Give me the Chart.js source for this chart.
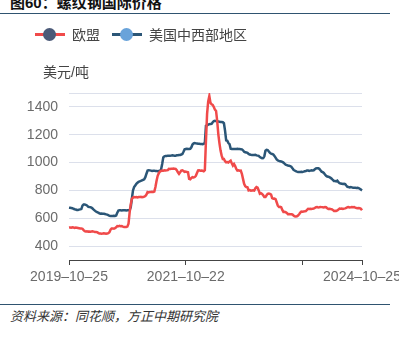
<!DOCTYPE html>
<html>
<head>
<meta charset="utf-8">
<script src="https://cdn.jsdelivr.net/npm/chart.js@4/dist/chart.umd.min.js"></script>
<style>
  body { margin: 0; width: 399px; height: 340px; overflow: hidden; background: #fff;
         font-family: "Liberation Sans", "Noto Sans CJK SC", sans-serif; position: relative; }
  .title { position: absolute; left: 10px; top: -9px; font-size: 15px; font-weight: bold; color: #111; }
  .rule { position: absolute; left: 0; width: 390px; height: 1px; background: #2f5470; }
  .legend { position: absolute; left: 35px; top: 24px; font-size: 14px; color: #444; display: flex; align-items: center; }
  .legend .item { display: flex; align-items: center; margin-right: 12px; }
  .legend .mark { position: relative; width: 30px; height: 14px; margin-right: 7px; }
  .legend .mark .ln { position: absolute; left: 0; top: 6px; width: 30px; height: 3px; }
  .legend .mark .dot { position: absolute; left: 8px; top: 1px; width: 13px; height: 13px; border-radius: 50%; }
  .unit { position: absolute; left: 43px; top: 61px; font-size: 14px; color: #444; }
  #wrap { position: absolute; left: 0; top: 0; width: 399px; height: 300px; }
  .source { position: absolute; left: 10px; top: 306px; font-size: 13px; font-style: italic; color: #333; }
</style>
</head>
<body>
<div class="title">图60：螺纹钢国际价格</div>
<div class="rule" style="top:13px"></div>

<div id="wrap"><canvas id="mycanvas" width="399" height="300"></canvas></div>

<div class="legend">
  <div class="item"><div class="mark"><div class="ln" style="background:#f04a4a"></div><div class="dot" style="background:#4b5a78"></div></div>欧盟</div>
  <div class="item"><div class="mark"><div class="ln" style="background:#2b5677"></div><div class="dot" style="background:#69a3da"></div></div>美国中西部地区</div>
</div>
<div class="unit">美元/吨</div>

<div class="rule" style="top:304px"></div>
<div class="source">资料来源：同花顺，方正中期研究院</div>

<script>
// weekly prices, USD/t, starting 2019-10-25
var startDate = Date.UTC(2019, 9, 25);

var euPrice = [
  533,534,532,535,533,531,533,532,530,528,
  526,527,524,515,508,505,506,504,505,503,
  505,506,504,502,502,500,495,490,491,489,
  490,492,490,488,490,493,500,518,526,527,
  525,528,535,543,542,545,543,544,540,538,
  538,537,540,560,640,700,740,748,752,751,
  752,750,753,752,754,751,752,755,760,770,
  788,786,789,788,790,789,792,824,870,905,
  924,935,940,943,942,945,943,944,946,955,
  954,956,955,957,956,955,945,930,919,930,
  943,945,940,933,935,932,930,883,880,890,
  895,893,896,905,925,943,944,942,943,941,
  938,945,1157,1350,1440,1478,1430,1419,1415,1400,
  1380,1371,1300,1205,1140,1086,1050,1026,1026,1010,
  1002,1004,1000,1008,1014,995,979,990,975,955,
  943,945,942,943,920,883,848,830,824,822,
  800,802,798,800,801,799,815,824,820,800,
  776,780,775,765,752,752,765,776,778,775,
  770,745,740,742,738,715,690,681,683,680,
  660,645,646,644,638,629,630,628,629,627,
  620,614,612,614,620,629,640,648,647,649,
  650,652,660,667,666,668,667,669,670,674,
  679,680,678,679,681,680,679,678,680,679,
  672,667,668,666,665,660,653,654,652,656,
  662,669,668,670,667,669,671,674,679,680,
  678,679,681,679,680,676,674,672,673,672,
  668,657
];

var usPrice = [
  676,675,674,672,668,665,663,660,660,662,
  664,666,690,698,698,696,692,684,681,680,
  676,670,662,655,648,644,640,636,633,634,
  633,632,630,628,626,622,618,617,617,616,
  618,617,620,640,655,657,657,656,657,658,
  657,656,657,657,658,680,740,800,824,835,
  848,855,862,865,868,872,876,880,895,920,
  943,945,944,942,940,941,942,940,939,938,
  940,942,950,990,1038,1045,1048,1048,1050,1050,
  1049,1050,1052,1051,1050,1050,1052,1053,1054,1055,
  1058,1062,1078,1095,1098,1100,1098,1098,1099,1110,
  1130,1138,1140,1138,1137,1136,1135,1134,1133,1132,
  1135,1140,1264,1268,1272,1276,1277,1278,1290,1298,
  1300,1298,1296,1295,1294,1292,1292,1290,1283,1230,
  1160,1157,1140,1133,1100,1098,1098,1097,1098,1098,
  1099,1098,1097,1096,1095,1088,1078,1074,1072,1070,
  1062,1058,1056,1055,1055,1054,1056,1052,1050,1048,
  1040,1035,1031,1032,1045,1085,1092,1090,1080,1070,
  1064,1062,1058,1048,1035,1022,1015,1012,1010,1008,
  1005,1000,992,985,982,979,977,975,970,960,
  948,943,938,935,933,932,933,934,933,935,
  938,940,943,943,940,942,944,943,945,952,
  958,960,959,955,945,935,931,925,915,905,
  900,898,895,890,884,875,868,867,865,870,
  860,852,850,848,846,848,845,835,826,824,
  822,824,822,820,820,819,818,819,816,812,
  806,800
];

var xTickIdx = [0, 104, 208, 261];
var xLabelIdx = [0, 104, 261];
var yTicks = [400, 600, 800, 1000, 1200, 1400, 1500];

var weeks = [];
for (var i = 0; i < euPrice.length; i++) {
  weeks.push(new Date(startDate + i * 7 * 86400000).toISOString().slice(0, 10));
}

var tickFont = { family: "Liberation Sans", size: 14 };

var ctx = document.getElementById("mycanvas");
var lineGraph = new Chart(ctx, {
  type: 'line',
  data: {
    labels: weeks,
    datasets: [
      { label: '欧盟', data: euPrice, borderColor: '#f04a4a', borderWidth: 2.5, pointRadius: 0, tension: 0 },
      { label: '美国中西部地区', data: usPrice, borderColor: '#2b5677', borderWidth: 2.5, pointRadius: 0, tension: 0 }
    ]
  },
  options: {
    responsive: false,
    animation: false,
    devicePixelRatio: 1,
    layout: { padding: { top: 93, left: 25, right: 37, bottom: 0 } },
    plugins: { legend: { display: false }, tooltip: { enabled: false } },
    scales: {
      x: {
        type: 'category',
        grid: { display: true, drawOnChartArea: false, drawTicks: true, tickLength: 5, color: '#444' },
        border: { display: true, color: '#444', width: 1 },
        ticks: {
          autoSkip: false, maxRotation: 0, padding: 4, color: '#6b6b6b', font: tickFont,
          callback: function(value) {
            // the axis prints dates with long dashes
            return xLabelIdx.indexOf(value) >= 0 ? this.getLabelForValue(value).replace(/-/g, '–') : '';
          }
        },
        afterBuildTicks: function(scale) {
          scale.ticks = xTickIdx.map(function(v) { return { value: v }; });
        },
        afterFit: function(scale) {
          scale.height = 40;
          scale.paddingLeft = 0;
          scale.paddingRight = 0;
        }
      },
      y: {
        min: 300,
        max: 1500,
        grid: { color: '#dce0eb', drawTicks: false },
        border: { display: false },
        ticks: {
          padding: 11, color: '#6b6b6b', font: tickFont,
          callback: function(value) { return value === 1500 ? '' : value; }
        },
        afterBuildTicks: function(scale) {
          scale.ticks = yTicks.map(function(v) { return { value: v }; });
        },
        afterFit: function(scale) {
          scale.width = 44;
          scale.paddingTop = 0;
          scale.paddingBottom = 0;
        }
      }
    }
  }
});
</script>
</body>
</html>
